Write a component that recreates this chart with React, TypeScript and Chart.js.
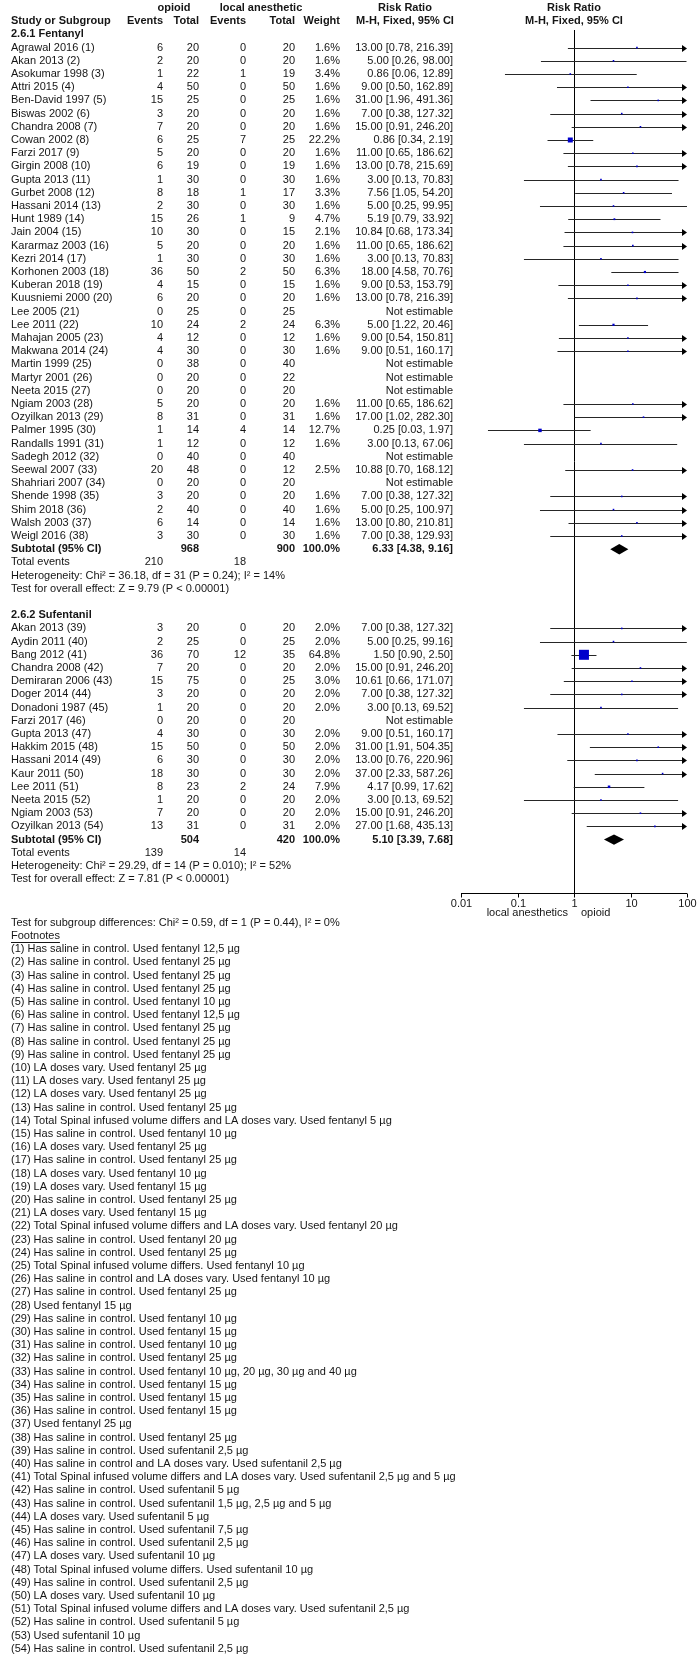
import React, { useEffect, useRef } from "react";
import { Chart, registerables } from "chart.js";

Chart.register(...registerables);

// ---------- DATA ----------
const fenStudies = [
  "Agrawal 2016 (1)", "Akan 2013 (2)", "Asokumar 1998 (3)", "Attri 2015 (4)", "Ben-David 1997 (5)",
  "Biswas 2002 (6)", "Chandra 2008 (7)", "Cowan 2002 (8)", "Farzi 2017 (9)", "Girgin 2008 (10)",
  "Gupta 2013 (11)", "Gurbet 2008 (12)", "Hassani 2014 (13)", "Hunt 1989 (14)", "Jain 2004 (15)",
  "Kararmaz 2003 (16)", "Kezri 2014 (17)", "Korhonen 2003 (18)", "Kuberan 2018 (19)", "Kuusniemi 2000 (20)",
  "Lee 2005 (21)", "Lee 2011 (22)", "Mahajan 2005 (23)", "Makwana 2014 (24)", "Martin 1999 (25)",
  "Martyr 2001 (26)", "Neeta 2015 (27)", "Ngiam 2003 (28)", "Ozyilkan 2013 (29)", "Palmer 1995 (30)",
  "Randalls 1991 (31)", "Sadegh 2012 (32)", "Seewal 2007 (33)", "Shahriari 2007 (34)", "Shende 1998 (35)",
  "Shim 2018 (36)", "Walsh 2003 (37)", "Weigl 2016 (38)",
];
const fenOpioidEvents = [6, 2, 1, 4, 15, 3, 7, 6, 5, 6, 1, 8, 2, 15, 10, 5, 1, 36, 4, 6, 0, 10, 4, 4, 0, 0, 0, 5, 8, 1, 1, 0, 20, 0, 3, 2, 6, 3];
const fenOpioidTotal = [20, 20, 22, 50, 25, 20, 20, 25, 20, 19, 30, 18, 30, 26, 30, 20, 30, 50, 15, 20, 25, 24, 12, 30, 38, 20, 20, 20, 31, 14, 12, 40, 48, 20, 20, 40, 14, 30];
const fenLaEvents = [0, 0, 1, 0, 0, 0, 0, 7, 0, 0, 0, 1, 0, 1, 0, 0, 0, 2, 0, 0, 0, 2, 0, 0, 0, 0, 0, 0, 0, 4, 0, 0, 0, 0, 0, 0, 0, 0];
const fenLaTotal = [20, 20, 19, 50, 25, 20, 20, 25, 20, 19, 30, 17, 30, 9, 15, 20, 30, 50, 15, 20, 25, 24, 12, 30, 40, 22, 20, 20, 31, 14, 12, 40, 12, 20, 20, 40, 14, 30];
const fenWeight = [1.6, 1.6, 3.4, 1.6, 1.6, 1.6, 1.6, 22.2, 1.6, 1.6, 1.6, 3.3, 1.6, 4.7, 2.1, 1.6, 1.6, 6.3, 1.6, 1.6, null, 6.3, 1.6, 1.6, null, null, null, 1.6, 1.6, 12.7, 1.6, null, 2.5, null, 1.6, 1.6, 1.6, 1.6];
const fenRR = [13.0, 5.0, 0.86, 9.0, 31.0, 7.0, 15.0, 0.86, 11.0, 13.0, 3.0, 7.56, 5.0, 5.19, 10.84, 11.0, 3.0, 18.0, 9.0, 13.0, null, 5.0, 9.0, 9.0, null, null, null, 11.0, 17.0, 0.25, 3.0, null, 10.88, null, 7.0, 5.0, 13.0, 7.0];
const fenLow = [0.78, 0.26, 0.06, 0.5, 1.96, 0.38, 0.91, 0.34, 0.65, 0.78, 0.13, 1.05, 0.25, 0.79, 0.68, 0.65, 0.13, 4.58, 0.53, 0.78, null, 1.22, 0.54, 0.51, null, null, null, 0.65, 1.02, 0.03, 0.13, null, 0.7, null, 0.38, 0.25, 0.8, 0.38];
const fenHigh = [216.39, 98.0, 12.89, 162.89, 491.36, 127.32, 246.2, 2.19, 186.62, 215.69, 70.83, 54.2, 99.95, 33.92, 173.34, 186.62, 70.83, 70.76, 153.79, 216.39, null, 20.46, 150.81, 160.17, null, null, null, 186.62, 282.3, 1.97, 67.06, null, 168.12, null, 127.32, 100.97, 210.81, 129.93];
const fenSubtotal = { total1: 968, total2: 900, weight: 100.0, rr: 6.33, low: 4.38, high: 9.16, events1: 210, events2: 18 };
const fenHeterogeneity = "Heterogeneity: Chi² = 36.18, df = 31 (P = 0.24); I² = 14%";
const fenOverall = "Test for overall effect: Z = 9.79 (P < 0.00001)";

const sufStudies = [
  "Akan 2013 (39)", "Aydin 2011 (40)", "Bang 2012 (41)", "Chandra 2008 (42)", "Demiraran 2006 (43)",
  "Doger 2014 (44)", "Donadoni 1987 (45)", "Farzi 2017 (46)", "Gupta 2013 (47)", "Hakkim 2015 (48)",
  "Hassani 2014 (49)", "Kaur 2011 (50)", "Lee 2011 (51)", "Neeta 2015 (52)", "Ngiam 2003 (53)",
  "Ozyilkan 2013 (54)",
];
const sufOpioidEvents = [3, 2, 36, 7, 15, 3, 1, 0, 4, 15, 6, 18, 8, 1, 7, 13];
const sufOpioidTotal = [20, 25, 70, 20, 75, 20, 20, 20, 30, 50, 30, 30, 23, 20, 20, 31];
const sufLaEvents = [0, 0, 12, 0, 0, 0, 0, 0, 0, 0, 0, 0, 2, 0, 0, 0];
const sufLaTotal = [20, 25, 35, 20, 25, 20, 20, 20, 30, 50, 30, 30, 24, 20, 20, 31];
const sufWeight = [2.0, 2.0, 64.8, 2.0, 3.0, 2.0, 2.0, null, 2.0, 2.0, 2.0, 2.0, 7.9, 2.0, 2.0, 2.0];
const sufRR = [7.0, 5.0, 1.5, 15.0, 10.61, 7.0, 3.0, null, 9.0, 31.0, 13.0, 37.0, 4.17, 3.0, 15.0, 27.0];
const sufLow = [0.38, 0.25, 0.9, 0.91, 0.66, 0.38, 0.13, null, 0.51, 1.91, 0.76, 2.33, 0.99, 0.13, 0.91, 1.68];
const sufHigh = [127.32, 99.16, 2.5, 246.2, 171.07, 127.32, 69.52, null, 160.17, 504.35, 220.96, 587.26, 17.62, 69.52, 246.2, 435.13];
const sufSubtotal = { total1: 504, total2: 420, weight: 100.0, rr: 5.1, low: 3.39, high: 7.68, events1: 139, events2: 14 };
const sufHeterogeneity = "Heterogeneity: Chi² = 29.29, df = 14 (P = 0.010); I² = 52%";
const sufOverall = "Test for overall effect: Z = 7.81 (P < 0.00001)";

const subgroupTest = "Test for subgroup differences: Chi² = 0.59, df = 1 (P = 0.44), I² = 0%";

const axisTicks = [0.01, 0.1, 1, 10, 100];
const axisTickLabels = ["0.01", "0.1", "1", "10", "100"];
const favoursLeft = "local anesthetics";
const favoursRight = "opioid";

const footnotes = [
  "(1) Has saline in control. Used fentanyl 12,5 µg",
  "(2) Has saline in control. Used fentanyl 25 µg",
  "(3) Has saline in control. Used fentanyl 25 µg",
  "(4) Has saline in control. Used fentanyl 25 µg",
  "(5) Has saline in control. Used fentanyl 10 µg",
  "(6) Has saline in control. Used fentanyl 12,5 µg",
  "(7) Has saline in control. Used fentanyl 25 µg",
  "(8) Has saline in control. Used fentanyl 25 µg",
  "(9) Has saline in control. Used fentanyl 25 µg",
  "(10) LA doses vary. Used fentanyl 25 µg",
  "(11) LA doses vary. Used fentanyl 25 µg",
  "(12) LA doses vary. Used fentanyl 25 µg",
  "(13) Has saline in control. Used fentanyl 25 µg",
  "(14) Total Spinal infused volume differs and LA doses vary. Used fentanyl 5 µg",
  "(15) Has saline in control. Used fentanyl 10 µg",
  "(16) LA doses vary. Used fentanyl 25 µg",
  "(17) Has saline in control. Used fentanyl 25 µg",
  "(18) LA doses vary. Used fentanyl 10 µg",
  "(19) LA doses vary. Used fentanyl 15 µg",
  "(20) Has saline in control. Used fentanyl 25 µg",
  "(21) LA doses vary. Used fentanyl 15 µg",
  "(22) Total Spinal infused volume differs and LA doses vary. Used fentanyl 20 µg",
  "(23) Has saline in control. Used fentanyl 20 µg",
  "(24) Has saline in control. Used fentanyl 25 µg",
  "(25) Total Spinal infused volume differs. Used fentanyl 10 µg",
  "(26) Has saline in control and LA doses vary. Used fentanyl 10 µg",
  "(27) Has saline in control. Used fentanyl 25 µg",
  "(28) Used fentanyl 15 µg",
  "(29) Has saline in control. Used fentanyl 10 µg",
  "(30) Has saline in control. Used fentanyl 15 µg",
  "(31) Has saline in control. Used fentanyl 10 µg",
  "(32) Has saline in control. Used fentanyl 25 µg",
  "(33) Has saline in control. Used fentanyl 10 µg, 20 µg, 30 µg and 40 µg",
  "(34) Has saline in control. Used fentanyl 15 µg",
  "(35) Has saline in control. Used fentanyl 15 µg",
  "(36) Has saline in control. Used fentanyl 15 µg",
  "(37) Used fentanyl 25 µg",
  "(38) Has saline in control. Used fentanyl 25 µg",
  "(39) Has saline in control. Used sufentanil 2,5 µg",
  "(40) Has saline in control and LA doses vary. Used sufentanil 2,5 µg",
  "(41) Total Spinal infused volume differs and LA doses vary. Used sufentanil 2,5 µg and 5 µg",
  "(42) Has saline in control. Used sufentanil 5 µg",
  "(43) Has saline in control. Used sufentanil 1,5 µg, 2,5 µg and 5 µg",
  "(44) LA doses vary. Used sufentanil 5 µg",
  "(45) Has saline in control. Used sufentanil 7,5 µg",
  "(46) Has saline in control. Used sufentanil 2,5 µg",
  "(47) LA doses vary. Used sufentanil 10 µg",
  "(48) Total Spinal infused volume differs. Used sufentanil 10 µg",
  "(49) Has saline in control. Used sufentanil 2,5 µg",
  "(50) LA doses vary. Used sufentanil 10 µg",
  "(51) Total Spinal infused volume differs and LA doses vary. Used sufentanil 2,5 µg",
  "(52) Has saline in control. Used sufentanil 5 µg",
  "(53) Used sufentanil 10 µg",
  "(54) Has saline in control. Used sufentanil 2,5 µg",
];

// ---------- LAYOUT ----------
const W = 700;
const H = 1670;
const ROW0_PX = 8;
const ROW_PX = 13.2;
const PLOT_LEFT = 461;
const PLOT_RIGHT = 687;
const PLOT_TOP = 30;
const AXIS_Y = 893;
const COL_STUDY = 11;
const COL_OE = 163;
const COL_OT = 199;
const COL_LE = 246;
const COL_LT = 295;
const COL_W = 340;
const COL_CI = 453;
const HEAD_OPIOID_X = 174;
const HEAD_LA_X = 261;
const HEAD_CI_X = 405;
const FONT = '"Liberation Sans", Arial, Helvetica, sans-serif';
const TEXT = "#151515";
const BLUE = "#0000cc";

type Group = {
  title: string;
  studies: string[];
  oe: number[]; ot: number[]; le: number[]; lt: number[];
  w: (number | null)[]; rr: (number | null)[]; lo: (number | null)[]; hi: (number | null)[];
  sub: typeof fenSubtotal;
  het: string; overall: string;
  titleRow: number; firstRow: number; subRow: number;
};

const groupsRaw = [
  { title: "2.6.1 Fentanyl", studies: fenStudies, oe: fenOpioidEvents, ot: fenOpioidTotal, le: fenLaEvents, lt: fenLaTotal, w: fenWeight, rr: fenRR, lo: fenLow, hi: fenHigh, sub: fenSubtotal, het: fenHeterogeneity, overall: fenOverall },
  { title: "2.6.2 Sufentanil", studies: sufStudies, oe: sufOpioidEvents, ot: sufOpioidTotal, le: sufLaEvents, lt: sufLaTotal, w: sufWeight, rr: sufRR, lo: sufLow, hi: sufHigh, sub: sufSubtotal, het: sufHeterogeneity, overall: sufOverall },
];

const groups: Group[] = [];
let rowCursor = 2;
for (const g of groupsRaw) {
  const titleRow = rowCursor;
  const firstRow = titleRow + 1;
  const subRow = firstRow + g.studies.length;
  groups.push({ ...g, titleRow, firstRow, subRow } as Group);
  rowCursor = subRow + 5;
}
const lastGroup = groups[groups.length - 1];
const subgroupRow = lastGroup.subRow + 3 + 3.3;
const footHeadRow = subgroupRow + 1;
const footFirstRow = footHeadRow + 1;

const fmt2 = (v: number) => v.toFixed(2);
const ciText = (rr: number, lo: number, hi: number) => `${fmt2(rr)} [${fmt2(lo)}, ${fmt2(hi)}]`;
const sideFor = (w: number) => Math.max(1.6, 0.664 * Math.pow(w, 0.65));

// points through chart.js scales
const pointData: { x: number; y: number }[] = [];
const pointRadii: number[] = [];
for (const g of groups) {
  g.studies.forEach((_, i) => {
    const rr = g.rr[i];
    const w = g.w[i];
    if (rr != null && w != null) {
      pointData.push({ x: rr, y: g.firstRow + i });
      pointRadii.push(sideFor(w) / Math.SQRT2);
    }
  });
}

const forestPlugin = {
  id: "forest",
  beforeDatasetsDraw(chart: any) {
    const { ctx, chartArea } = chart;
    const xs = chart.scales.x;
    const ys = chart.scales.y;
    ctx.save();
    // reference line at 1
    const x1 = Math.round(xs.getPixelForValue(1)) + 0.5;
    ctx.strokeStyle = "#000";
    ctx.lineWidth = 1;
    ctx.beginPath();
    ctx.moveTo(x1, chartArea.top);
    ctx.lineTo(x1, chartArea.bottom);
    ctx.stroke();

    const minV = xs.min;
    const maxV = xs.max;
    for (const g of groups) {
      g.studies.forEach((_, i) => {
        const lo = g.lo[i];
        const hi = g.hi[i];
        if (lo == null || hi == null) return;
        const y = Math.round(ys.getPixelForValue(g.firstRow + i)) + 0.5;
        const a = xs.getPixelForValue(Math.max(lo, minV));
        const b = xs.getPixelForValue(Math.min(hi, maxV));
        ctx.strokeStyle = "#262626";
        ctx.lineWidth = 1;
        ctx.beginPath();
        ctx.moveTo(a, y);
        ctx.lineTo(hi > maxV ? b - 4 : b, y);
        ctx.stroke();
        ctx.fillStyle = "#000";
        if (hi > maxV) {
          ctx.beginPath();
          ctx.moveTo(b, y);
          ctx.lineTo(b - 5, y - 3.5);
          ctx.lineTo(b - 5, y + 3.5);
          ctx.closePath();
          ctx.fill();
        }
        if (lo < minV) {
          ctx.beginPath();
          ctx.moveTo(a, y);
          ctx.lineTo(a + 5, y - 3.5);
          ctx.lineTo(a + 5, y + 3.5);
          ctx.closePath();
          ctx.fill();
        }
      });
      // diamond
      const yc = ys.getPixelForValue(g.subRow);
      const dl = xs.getPixelForValue(g.sub.low);
      const dm = xs.getPixelForValue(g.sub.rr);
      const dr = xs.getPixelForValue(g.sub.high);
      ctx.fillStyle = "#000";
      ctx.beginPath();
      ctx.moveTo(dl, yc);
      ctx.lineTo(dm, yc - 5.2);
      ctx.lineTo(dr, yc);
      ctx.lineTo(dm, yc + 5.2);
      ctx.closePath();
      ctx.fill();
    }
    ctx.restore();
  },
  afterDraw(chart: any) {
    const { ctx, chartArea } = chart;
    const xs = chart.scales.x;
    const ys = chart.scales.y;
    const rp = (r: number) => ys.getPixelForValue(r);
    ctx.save();
    ctx.textBaseline = "middle";
    const txt = (s: string, x: number, y: number, align: CanvasTextAlign = "left", bold = false) => {
      ctx.font = `${bold ? "bold " : ""}11px ${FONT}`;
      ctx.fillStyle = TEXT;
      ctx.textAlign = align;
      ctx.fillText(s, x, y);
    };

    // header
    const h0 = rp(0);
    const h1 = rp(1);
    txt("opioid", HEAD_OPIOID_X, h0, "center", true);
    txt("local anesthetic", HEAD_LA_X, h0, "center", true);
    txt("Risk Ratio", HEAD_CI_X, h0, "center", true);
    txt("Risk Ratio", xs.getPixelForValue(1), h0, "center", true);
    txt("Study or Subgroup", COL_STUDY, h1, "left", true);
    txt("Events", COL_OE, h1, "right", true);
    txt("Total", COL_OT, h1, "right", true);
    txt("Events", COL_LE, h1, "right", true);
    txt("Total", COL_LT, h1, "right", true);
    txt("Weight", COL_W, h1, "right", true);
    txt("M-H, Fixed, 95% CI", HEAD_CI_X, h1, "center", true);
    txt("M-H, Fixed, 95% CI", xs.getPixelForValue(1), h1, "center", true);

    for (const g of groups) {
      txt(g.title, COL_STUDY, rp(g.titleRow), "left", true);
      g.studies.forEach((name, i) => {
        const y = rp(g.firstRow + i);
        txt(name, COL_STUDY, y);
        txt(String(g.oe[i]), COL_OE, y, "right");
        txt(String(g.ot[i]), COL_OT, y, "right");
        txt(String(g.le[i]), COL_LE, y, "right");
        txt(String(g.lt[i]), COL_LT, y, "right");
        const w = g.w[i];
        const rr = g.rr[i];
        if (w != null) txt(`${w.toFixed(1)}%`, COL_W, y, "right");
        if (rr != null) txt(ciText(rr, g.lo[i] as number, g.hi[i] as number), COL_CI, y, "right");
        else txt("Not estimable", COL_CI, y, "right");
      });
      const ys2 = rp(g.subRow);
      txt("Subtotal (95% CI)", COL_STUDY, ys2, "left", true);
      txt(String(g.sub.total1), COL_OT, ys2, "right", true);
      txt(String(g.sub.total2), COL_LT, ys2, "right", true);
      txt(`${g.sub.weight.toFixed(1)}%`, COL_W, ys2, "right", true);
      txt(ciText(g.sub.rr, g.sub.low, g.sub.high), COL_CI, ys2, "right", true);
      const ye = rp(g.subRow + 1);
      txt("Total events", COL_STUDY, ye);
      txt(String(g.sub.events1), COL_OE, ye, "right");
      txt(String(g.sub.events2), COL_LE, ye, "right");
      txt(g.het, COL_STUDY, rp(g.subRow + 2));
      txt(g.overall, COL_STUDY, rp(g.subRow + 3));
    }

    // axis
    const ay = Math.round(chartArea.bottom) + 0.5;
    ctx.strokeStyle = "#000";
    ctx.lineWidth = 1;
    ctx.beginPath();
    ctx.moveTo(xs.getPixelForValue(axisTicks[0]), ay);
    ctx.lineTo(xs.getPixelForValue(axisTicks[axisTicks.length - 1]), ay);
    ctx.stroke();
    axisTicks.forEach((t, i) => {
      const px = Math.round(xs.getPixelForValue(t)) + 0.5;
      ctx.beginPath();
      ctx.moveTo(px, ay);
      ctx.lineTo(px, ay + 4);
      ctx.stroke();
      txt(axisTickLabels[i], px, ay + 10, "center");
    });
    const cx = xs.getPixelForValue(1);
    txt(favoursLeft, cx - 6, ay + 19, "right");
    txt(favoursRight, cx + 7, ay + 19, "left");

    // bottom texts
    txt(subgroupTest, COL_STUDY, rp(subgroupRow));
    const fy = rp(footHeadRow);
    txt("Footnotes", COL_STUDY, fy);
    ctx.font = `11px ${FONT}`;
    const fw = ctx.measureText("Footnotes").width;
    ctx.strokeStyle = TEXT;
    ctx.beginPath();
    ctx.moveTo(COL_STUDY, Math.round(fy + 6) + 0.5);
    ctx.lineTo(COL_STUDY + fw, Math.round(fy + 6) + 0.5);
    ctx.stroke();
    footnotes.forEach((f, i) => txt(f, COL_STUDY, rp(footFirstRow + i)));
    ctx.restore();
  },
};

export default function App() {
  const ref = useRef<HTMLCanvasElement | null>(null);
  useEffect(() => {
    document.body.style.margin = "0";
    const canvas = ref.current;
    if (!canvas) return;
    const chart = new Chart(canvas, {
      type: "scatter",
      data: {
        datasets: [
          {
            data: pointData,
            pointStyle: "rect",
            pointRadius: pointRadii,
            pointBackgroundColor: BLUE,
            pointBorderColor: BLUE,
            pointBorderWidth: 0,
            backgroundColor: BLUE,
            borderColor: BLUE,
          },
        ],
      },
      options: {
        responsive: false,
        animation: false,
        devicePixelRatio: 1,
        events: [],
        layout: {
          padding: { left: PLOT_LEFT, right: W - PLOT_RIGHT, top: PLOT_TOP, bottom: H - AXIS_Y },
        },
        scales: {
          x: { type: "logarithmic", min: 0.01, max: 100, display: false },
          y: {
            type: "linear",
            reverse: true,
            min: (PLOT_TOP - ROW0_PX) / ROW_PX,
            max: (AXIS_Y - ROW0_PX) / ROW_PX,
            display: false,
          },
        },
        plugins: { legend: { display: false }, tooltip: { enabled: false }, title: { display: false } },
      },
      plugins: [forestPlugin],
    } as any);
    return () => chart.destroy();
  }, []);
  return (
    <div style={{ width: W, height: H, background: "#fff" }}>
      <canvas ref={ref} width={W} height={H} style={{ display: "block" }} />
    </div>
  );
}
